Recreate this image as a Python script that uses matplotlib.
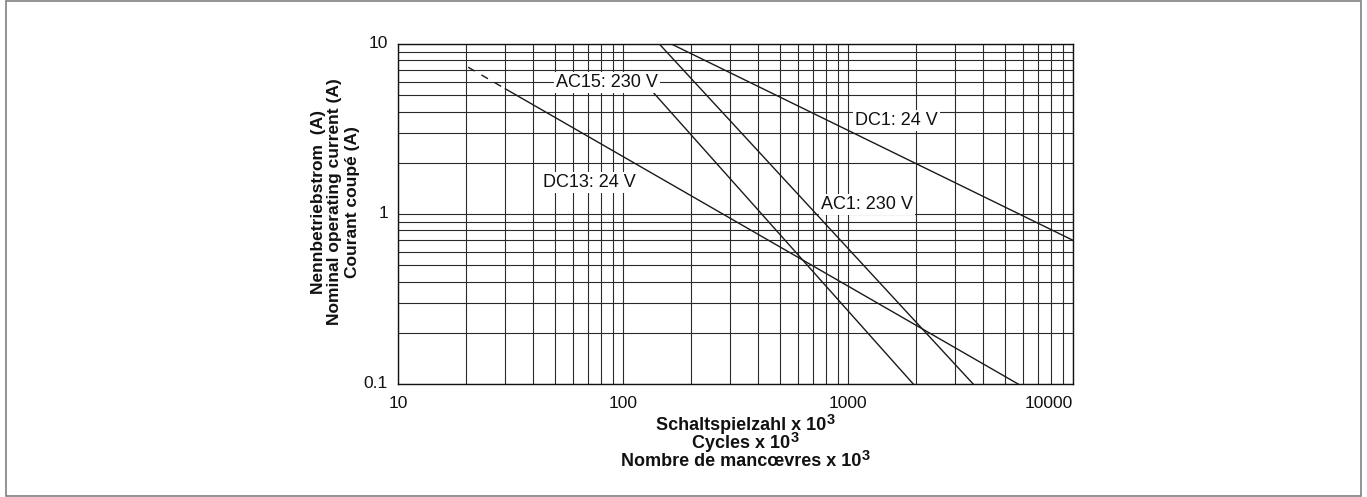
import matplotlib
matplotlib.use("Agg")
import matplotlib.pyplot as plt
from matplotlib.ticker import LogLocator, NullFormatter
from matplotlib.patches import Rectangle
import matplotlib.transforms as mtransforms

plt.rcParams['font.family'] = ['Liberation Sans', 'DejaVu Sans']

# ---- data ----
x_ticks = [10, 100, 1000, 10000]
x_tick_labels = ["10", "100", "1000", "10000"]
y_ticks = [0.1, 1, 10]
y_tick_labels = ["0.1", "1", "10"]

dc13_dash_x = [20.5, 30]
dc13_dash_y = [7.3, 5.45]
dc13_x = [30, 5700]
dc13_y = [5.45, 0.1]

ac15_x = [125, 1950]
ac15_y = [5.9, 0.1]

ac1_x = [145, 3600]
ac1_y = [10, 0.1]

dc1_x = [164, 10000]
dc1_y = [10, 0.70]

labels = ["AC15: 230 V", "DC13: 24 V", "AC1: 230 V", "DC1: 24 V"]
label_x = [50.4, 44.1, 759, 1074]
label_y = [5.93, 1.53, 1.137, 3.55]

y_label_lines = ["Nennbetriebstrom  (A)", "Nominal operating current (A)", "Courant coupé (A)"]
x_label_lines = ["Schaltspielzahl x 10", "Cycles x 10", "Nombre de mancœvres x 10"]
x_label_sup = "3"

W, H = 1367, 497
fig = plt.figure(figsize=(W / 100, H / 100), dpi=100)
fig.patch.set_facecolor("white")
ax = fig.add_axes([398 / W, 1 - 384 / H, (1073 - 398) / W, (384 - 44) / H])
ax.set_xscale("log")
ax.set_yscale("log")
ax.set_xlim(10, 10000)
ax.set_ylim(0.1, 10)

ax.xaxis.set_major_locator(LogLocator(base=10, numticks=10))
ax.xaxis.set_minor_locator(LogLocator(base=10, subs=range(2, 10), numticks=20))
ax.yaxis.set_major_locator(LogLocator(base=10, numticks=10))
ax.yaxis.set_minor_locator(LogLocator(base=10, subs=range(2, 10), numticks=20))
for a in (ax.xaxis, ax.yaxis):
    a.set_major_formatter(NullFormatter())
    a.set_minor_formatter(NullFormatter())
ax.tick_params(which="both", length=0)
ax.grid(which="both", color="#2a2a2a", linewidth=0.8)
ax.set_axisbelow(True)
for s in ax.spines.values():
    s.set_color("#111111")
    s.set_linewidth(1.0)

lc = "#1a1a1a"
ax.plot(dc13_dash_x, dc13_dash_y, color=lc, lw=1.0, linestyle=(0, (5.5, 5.5)), zorder=3)
ax.plot(dc13_x, dc13_y, color=lc, lw=1.0, zorder=3)
ax.plot(ac15_x, ac15_y, color=lc, lw=1.0, zorder=3)
ax.plot(ac1_x, ac1_y, color=lc, lw=1.0, zorder=3)
ax.plot(dc1_x, dc1_y, color=lc, lw=1.0, zorder=3)

for t, lx, ly in zip(labels, label_x, label_y):
    ax.text(lx, ly, t, ha="left", va="center", fontsize=13, color="#111111", zorder=5,
            bbox=dict(facecolor="white", edgecolor="none", pad=1.5))

# tick labels
xt = mtransforms.blended_transform_factory(ax.transData, ax.transAxes)
for v, s in zip(x_ticks, x_tick_labels):
    ha = "right" if v == x_ticks[-1] else "center"
    ax.text(v, -0.035, s, transform=xt, ha=ha, va="top", fontsize=12.5, color="#111111")
yt = mtransforms.blended_transform_factory(ax.transAxes, ax.transData)
for v, s in zip(y_ticks, y_tick_labels):
    ax.text(-0.015, v, s, transform=yt, ha="right", va="center", fontsize=12.5, color="#111111")

# y label (three lines, rotated)
for i, s in enumerate(y_label_lines):
    fig.text((318 + 17 * i) / W, 1 - 202 / H, s, rotation=90, ha="center", va="center",
             fontsize=12.5, fontweight="bold", color="#111111")

# x label (three lines, with superscript 3 as separate text)
renderer = fig.canvas.get_renderer()
for i, s in enumerate(x_label_lines):
    yc = 1 - (425 + 18 * i) / H
    sup = fig.text(0, 0, x_label_sup, ha="left", va="center", fontsize=10.5,
                   fontweight="bold", color="#111111")
    ws = sup.get_window_extent(renderer).width
    main = fig.text(745 / W - ws / 2 / W, yc, s, ha="center", va="center", fontsize=13,
                    fontweight="bold", color="#111111")
    bb = main.get_window_extent(renderer)
    sup.set_position(((bb.x1 + 0.5) / W, yc + 5 / H))

fig.patches.append(Rectangle((6 / W, 1 / H), 1355 / W, 495 / H, transform=fig.transFigure,
                             fill=False, edgecolor="#808080", linewidth=1.2))

fig.savefig("out.png", dpi=100)
